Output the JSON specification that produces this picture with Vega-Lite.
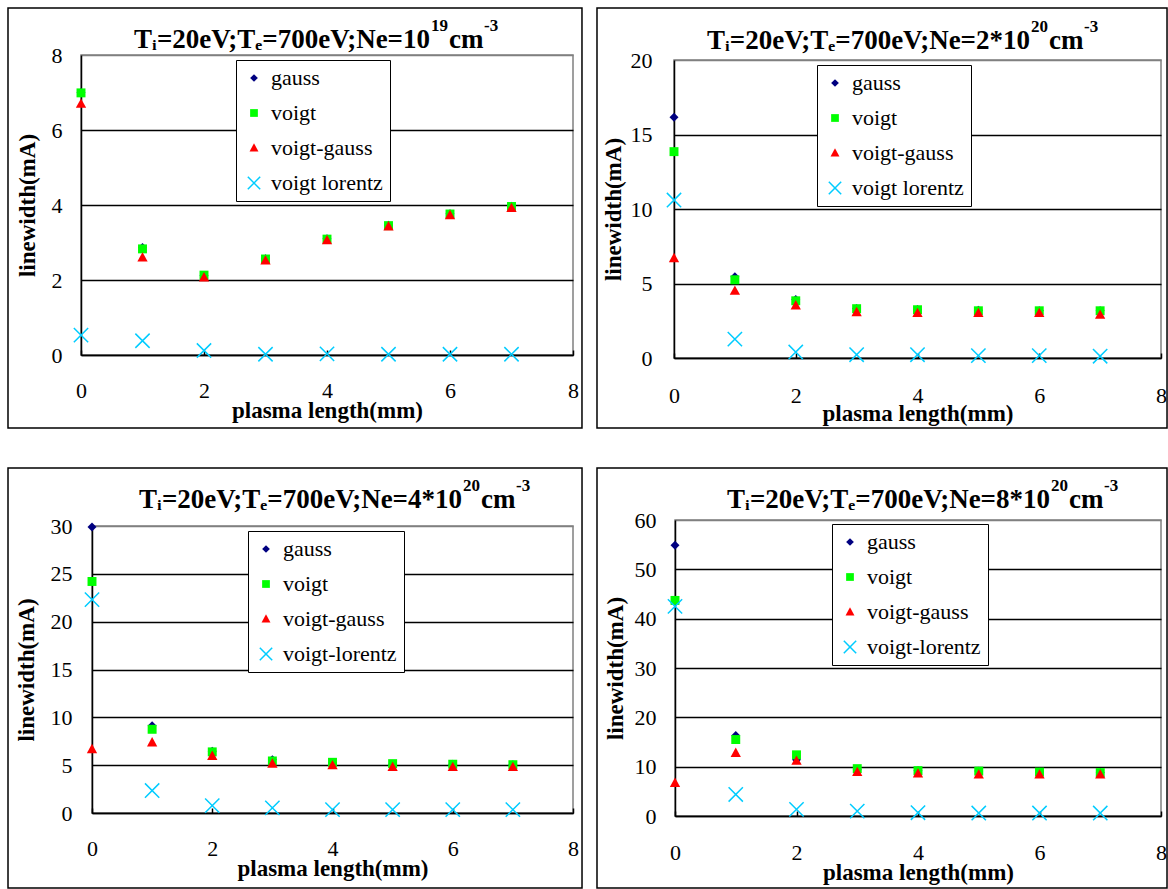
{
  "$schema": "https://vega.github.io/schema/vega-lite/v6.json",
  "background": "white",
  "padding": 0,
  "config": {
    "font": "Liberation Serif",
    "view": {"stroke": "#808080", "strokeWidth": 1.5},
    "axis": {"labelFont": "Liberation Serif", "titleFont": "Liberation Serif", "labelFontSize": 22, "titleFontSize": 23, "titleFontWeight": "bold", "labelColor": "black", "titleColor": "black", "domainColor": "black", "domainWidth": 1.5, "tickColor": "black", "tickWidth": 1.5, "labelFlush": false, "labelOverlap": false, "format": "d"},
    "legend": {"labelFont": "Liberation Serif", "labelFontSize": 22, "labelColor": "black", "strokeColor": "black", "fillColor": "white", "padding": 7, "rowPadding": 13, "symbolSize": 60, "labelOffset": 6, "symbolStrokeWidth": 1.5},
    "text": {"font": "Liberation Serif, DejaVu Serif", "fontSize": 27, "fontWeight": "bold", "color": "black", "baseline": "alphabetic"},
    "point": {"opacity": 1}
  },
  "datasets": {
    "p1": [
      {"x": 0, "y": 7.0, "s": "gauss"}, {"x": 1, "y": 2.87, "s": "gauss"}, {"x": 2, "y": 2.12, "s": "gauss"}, {"x": 3, "y": 2.57, "s": "gauss"}, {"x": 4, "y": 3.1, "s": "gauss"}, {"x": 5, "y": 3.46, "s": "gauss"}, {"x": 6, "y": 3.77, "s": "gauss"}, {"x": 7, "y": 3.97, "s": "gauss"},
      {"x": 0, "y": 6.99, "s": "voigt"}, {"x": 1, "y": 2.83, "s": "voigt"}, {"x": 2, "y": 2.13, "s": "voigt"}, {"x": 3, "y": 2.56, "s": "voigt"}, {"x": 4, "y": 3.09, "s": "voigt"}, {"x": 5, "y": 3.45, "s": "voigt"}, {"x": 6, "y": 3.76, "s": "voigt"}, {"x": 7, "y": 3.96, "s": "voigt"},
      {"x": 0, "y": 6.7, "s": "voigt-gauss"}, {"x": 1, "y": 2.6, "s": "voigt-gauss"}, {"x": 2, "y": 2.07, "s": "voigt-gauss"}, {"x": 3, "y": 2.52, "s": "voigt-gauss"}, {"x": 4, "y": 3.06, "s": "voigt-gauss"}, {"x": 5, "y": 3.43, "s": "voigt-gauss"}, {"x": 6, "y": 3.73, "s": "voigt-gauss"}, {"x": 7, "y": 3.92, "s": "voigt-gauss"},
      {"x": 0, "y": 0.53, "s": "voigt lorentz"}, {"x": 1, "y": 0.38, "s": "voigt lorentz"}, {"x": 2, "y": 0.12, "s": "voigt lorentz"}, {"x": 3, "y": 0.02, "s": "voigt lorentz"}, {"x": 4, "y": 0.03, "s": "voigt lorentz"}, {"x": 5, "y": 0.02, "s": "voigt lorentz"}, {"x": 6, "y": 0.02, "s": "voigt lorentz"}, {"x": 7, "y": 0.02, "s": "voigt lorentz"}
    ],
    "p2": [
      {"x": 0, "y": 16.16, "s": "gauss"}, {"x": 1, "y": 5.45, "s": "gauss"}, {"x": 2, "y": 3.92, "s": "gauss"}, {"x": 3, "y": 3.33, "s": "gauss"}, {"x": 4, "y": 3.25, "s": "gauss"}, {"x": 5, "y": 3.2, "s": "gauss"}, {"x": 6, "y": 3.18, "s": "gauss"}, {"x": 7, "y": 3.18, "s": "gauss"},
      {"x": 0, "y": 13.85, "s": "voigt"}, {"x": 1, "y": 5.25, "s": "voigt"}, {"x": 2, "y": 3.84, "s": "voigt"}, {"x": 3, "y": 3.31, "s": "voigt"}, {"x": 4, "y": 3.24, "s": "voigt"}, {"x": 5, "y": 3.17, "s": "voigt"}, {"x": 6, "y": 3.17, "s": "voigt"}, {"x": 7, "y": 3.17, "s": "voigt"},
      {"x": 0, "y": 6.7, "s": "voigt-gauss"}, {"x": 1, "y": 4.51, "s": "voigt-gauss"}, {"x": 2, "y": 3.53, "s": "voigt-gauss"}, {"x": 3, "y": 3.08, "s": "voigt-gauss"}, {"x": 4, "y": 3.02, "s": "voigt-gauss"}, {"x": 5, "y": 3.02, "s": "voigt-gauss"}, {"x": 6, "y": 3.02, "s": "voigt-gauss"}, {"x": 7, "y": 2.9, "s": "voigt-gauss"},
      {"x": 0, "y": 10.6, "s": "voigt lorentz"}, {"x": 1, "y": 1.27, "s": "voigt lorentz"}, {"x": 2, "y": 0.4, "s": "voigt lorentz"}, {"x": 3, "y": 0.22, "s": "voigt lorentz"}, {"x": 4, "y": 0.22, "s": "voigt lorentz"}, {"x": 5, "y": 0.16, "s": "voigt lorentz"}, {"x": 6, "y": 0.16, "s": "voigt lorentz"}, {"x": 7, "y": 0.12, "s": "voigt lorentz"}
    ],
    "p3": [
      {"x": 0, "y": 29.9, "s": "gauss"}, {"x": 1, "y": 9.13, "s": "gauss"}, {"x": 2, "y": 6.46, "s": "gauss"}, {"x": 3, "y": 5.58, "s": "gauss"}, {"x": 4, "y": 5.25, "s": "gauss"}, {"x": 5, "y": 5.1, "s": "gauss"}, {"x": 6, "y": 5.1, "s": "gauss"}, {"x": 7, "y": 5.05, "s": "gauss"},
      {"x": 0, "y": 24.2, "s": "voigt"}, {"x": 1, "y": 8.75, "s": "voigt"}, {"x": 2, "y": 6.39, "s": "voigt"}, {"x": 3, "y": 5.44, "s": "voigt"}, {"x": 4, "y": 5.3, "s": "voigt"}, {"x": 5, "y": 5.16, "s": "voigt"}, {"x": 6, "y": 5.1, "s": "voigt"}, {"x": 7, "y": 5.05, "s": "voigt"},
      {"x": 0, "y": 6.67, "s": "voigt-gauss"}, {"x": 1, "y": 7.38, "s": "voigt-gauss"}, {"x": 2, "y": 5.97, "s": "voigt-gauss"}, {"x": 3, "y": 5.16, "s": "voigt-gauss"}, {"x": 4, "y": 4.99, "s": "voigt-gauss"}, {"x": 5, "y": 4.81, "s": "voigt-gauss"}, {"x": 6, "y": 4.8, "s": "voigt-gauss"}, {"x": 7, "y": 4.8, "s": "voigt-gauss"},
      {"x": 0, "y": 22.3, "s": "voigt-lorentz"}, {"x": 1, "y": 2.35, "s": "voigt-lorentz"}, {"x": 2, "y": 0.77, "s": "voigt-lorentz"}, {"x": 3, "y": 0.53, "s": "voigt-lorentz"}, {"x": 4, "y": 0.35, "s": "voigt-lorentz"}, {"x": 5, "y": 0.35, "s": "voigt-lorentz"}, {"x": 6, "y": 0.35, "s": "voigt-lorentz"}, {"x": 7, "y": 0.35, "s": "voigt-lorentz"}
    ],
    "p4": [
      {"x": 0, "y": 54.9, "s": "gauss"}, {"x": 1, "y": 16.3, "s": "gauss"}, {"x": 2, "y": 11.4, "s": "gauss"}, {"x": 3, "y": 9.4, "s": "gauss"}, {"x": 4, "y": 9.2, "s": "gauss"}, {"x": 5, "y": 9.1, "s": "gauss"}, {"x": 6, "y": 8.9, "s": "gauss"}, {"x": 7, "y": 8.8, "s": "gauss"},
      {"x": 0, "y": 43.7, "s": "voigt"}, {"x": 1, "y": 15.5, "s": "voigt"}, {"x": 2, "y": 12.4, "s": "voigt"}, {"x": 3, "y": 9.6, "s": "voigt"}, {"x": 4, "y": 9.2, "s": "voigt"}, {"x": 5, "y": 9.1, "s": "voigt"}, {"x": 6, "y": 8.9, "s": "voigt"}, {"x": 7, "y": 8.8, "s": "voigt"},
      {"x": 0, "y": 6.7, "s": "voigt-gauss"}, {"x": 1, "y": 12.8, "s": "voigt-gauss"}, {"x": 2, "y": 11.2, "s": "voigt-gauss"}, {"x": 3, "y": 8.9, "s": "voigt-gauss"}, {"x": 4, "y": 8.6, "s": "voigt-gauss"}, {"x": 5, "y": 8.4, "s": "voigt-gauss"}, {"x": 6, "y": 8.4, "s": "voigt-gauss"}, {"x": 7, "y": 8.4, "s": "voigt-gauss"},
      {"x": 0, "y": 42.5, "s": "voigt-lorentz"}, {"x": 1, "y": 4.37, "s": "voigt-lorentz"}, {"x": 2, "y": 1.34, "s": "voigt-lorentz"}, {"x": 3, "y": 1.0, "s": "voigt-lorentz"}, {"x": 4, "y": 0.67, "s": "voigt-lorentz"}, {"x": 5, "y": 0.6, "s": "voigt-lorentz"}, {"x": 6, "y": 0.6, "s": "voigt-lorentz"}, {"x": 7, "y": 0.6, "s": "voigt-lorentz"}
    ]
  },
  "resolve": {"scale": {"shape": "independent", "fill": "independent", "stroke": "independent"}},
  "spacing": 30,
  "vconcat": [
    {
      "spacing": 11,
      "resolve": {"scale": {"shape": "independent", "fill": "independent", "stroke": "independent"}},
      "hconcat": [
        {
          "spacing": 5,
          "resolve": {"scale": {"shape": "independent", "fill": "independent", "stroke": "independent"}},
          "hconcat": [
            {"width": 1, "height": 1, "view": {"stroke": null}, "data": {"values": [{}]}, "mark": {"type": "point", "size": 0, "opacity": 0}},
            {
              "spacing": 5,
              "resolve": {"scale": {"shape": "independent", "fill": "independent", "stroke": "independent"}},
              "vconcat": [
                {"width": 1, "height": 1, "view": {"stroke": null}, "data": {"values": [{}]}, "mark": {"type": "point", "size": 0, "opacity": 0}},
                {
                  "width": 492, "height": 300,
                  "data": {"name": "p1"},
                  "layer": [
                    {
                      "data": {"values": [{}]},
                      "mark": {"type": "rect", "fillOpacity": 0, "stroke": "black", "strokeWidth": 1.5},
                      "encoding": {
                        "x": {"datum": -1.187, "type": "quantitative", "scale": {"domain": [0, 8], "nice": false, "zero": false}},
                        "x2": {"datum": 8.146},
                        "y": {"datum": 9.253, "type": "quantitative", "scale": {"domain": [0, 8], "nice": false}},
                        "y2": {"datum": -1.947}
                      }
                    },
                    {"data": {"values": [{}]}, "mark": {"type": "text", "text": "Tᵢ=20eV;Tₑ=700eV;Ne=10", "align": "right"}, "encoding": {"x": {"datum": 5.675, "type": "quantitative"}, "y": {"datum": 8.195, "type": "quantitative"}}},
                    {"data": {"values": [{}]}, "mark": {"type": "text", "text": "19", "align": "left", "fontSize": 17, "dx": 1, "dy": -17}, "encoding": {"x": {"datum": 5.675, "type": "quantitative"}, "y": {"datum": 8.195, "type": "quantitative"}}},
                    {"data": {"values": [{}]}, "mark": {"type": "text", "text": "cm", "align": "left", "dx": 19}, "encoding": {"x": {"datum": 5.675, "type": "quantitative"}, "y": {"datum": 8.195, "type": "quantitative"}}},
                    {"data": {"values": [{}]}, "mark": {"type": "text", "text": "-3", "align": "left", "fontSize": 17, "dx": 54, "dy": -17}, "encoding": {"x": {"datum": 5.675, "type": "quantitative"}, "y": {"datum": 8.195, "type": "quantitative"}}},
                    {
                      "mark": {"type": "point", "filled": true, "size": 80, "strokeWidth": 1.5, "opacity": 1},
                      "encoding": {
                        "x": {"field": "x", "type": "quantitative", "scale": {"domain": [0, 8], "nice": false, "zero": false},
                              "axis": {"title": "plasma length(mm)", "values": [0, 2, 4, 6, 8], "tickSize": -5, "labelPadding": 30, "titlePadding": -2, "grid": false}},
                        "y": {"field": "y", "type": "quantitative", "scale": {"domain": [0, 8], "nice": false},
                              "axis": {"title": "linewidth(mA)", "values": [0, 2, 4, 6, 8], "ticks": false, "labelPadding": 19, "titlePadding": 12, "grid": true, "gridWidth": 1.3, "gridColor": {"condition": {"test": "datum.value >= 8", "value": "#808080"}, "value": "black"}}},
                        "shape": {"field": "s", "type": "nominal", "scale": {"domain": ["gauss", "voigt", "voigt-gauss", "voigt lorentz"], "range": ["diamond", "square", "M0,-1.2L1.15,0.9L-1.15,0.9Z", "M-1.6,-1.6L1.6,1.6M-1.6,1.6L1.6,-1.6"]}, "legend": {"title": null, "orient": "none", "legendX": 155, "legendY": 5}},
                        "fill": {"field": "s", "type": "nominal", "scale": {"domain": ["gauss", "voigt", "voigt-gauss", "voigt lorentz"], "range": ["#000080", "#00FF00", "#FF0000", "#00CCFF"]}, "legend": {"title": null, "orient": "none", "legendX": 155, "legendY": 5}},
                        "stroke": {"field": "s", "type": "nominal", "scale": {"domain": ["gauss", "voigt", "voigt-gauss", "voigt lorentz"], "range": ["transparent", "transparent", "transparent", "#00CCFF"]}, "legend": {"title": null, "orient": "none", "legendX": 155, "legendY": 5}}
                      }
                    }
                  ]
                }
              ]
            }
          ]
        },
        {
          "spacing": 5,
          "resolve": {"scale": {"shape": "independent", "fill": "independent", "stroke": "independent"}},
          "vconcat": [
            {"width": 1, "height": 1, "view": {"stroke": null}, "data": {"values": [{}]}, "mark": {"type": "point", "size": 0, "opacity": 0}},
            {
              "width": 487, "height": 298,
              "data": {"name": "p2"},
              "layer": [
                {
                  "data": {"values": [{}]},
                  "mark": {"type": "rect", "fillOpacity": 0, "stroke": "black", "strokeWidth": 1.5},
                  "encoding": {
                    "x": {"datum": -1.265, "type": "quantitative", "scale": {"domain": [0, 8], "nice": false, "zero": false}},
                    "x2": {"datum": 8.099},
                    "y": {"datum": 23.49, "type": "quantitative", "scale": {"domain": [0, 20], "nice": false}},
                    "y2": {"datum": -4.7}
                  }
                },
                {"data": {"values": [{}]}, "mark": {"type": "text", "text": "Tᵢ=20eV;Tₑ=700eV;Ne=2*10", "align": "right"}, "encoding": {"x": {"datum": 5.848, "type": "quantitative"}, "y": {"datum": 20.74, "type": "quantitative"}}},
                {"data": {"values": [{}]}, "mark": {"type": "text", "text": "20", "align": "left", "fontSize": 17, "dx": 1, "dy": -17}, "encoding": {"x": {"datum": 5.848, "type": "quantitative"}, "y": {"datum": 20.74, "type": "quantitative"}}},
                {"data": {"values": [{}]}, "mark": {"type": "text", "text": "cm", "align": "left", "dx": 19}, "encoding": {"x": {"datum": 5.848, "type": "quantitative"}, "y": {"datum": 20.74, "type": "quantitative"}}},
                {"data": {"values": [{}]}, "mark": {"type": "text", "text": "-3", "align": "left", "fontSize": 17, "dx": 54, "dy": -17}, "encoding": {"x": {"datum": 5.848, "type": "quantitative"}, "y": {"datum": 20.74, "type": "quantitative"}}},
                {
                  "mark": {"type": "point", "filled": true, "size": 80, "strokeWidth": 1.5, "opacity": 1},
                  "encoding": {
                    "x": {"field": "x", "type": "quantitative", "scale": {"domain": [0, 8], "nice": false, "zero": false},
                          "axis": {"title": "plasma length(mm)", "values": [0, 2, 4, 6, 8], "tickSize": -5, "labelPadding": 32, "titlePadding": -4, "grid": false}},
                    "y": {"field": "y", "type": "quantitative", "scale": {"domain": [0, 20], "nice": false},
                          "axis": {"title": "linewidth(mA)", "values": [0, 5, 10, 15, 20], "ticks": false, "labelPadding": 22, "titlePadding": 5, "grid": true, "gridWidth": 1.3, "gridColor": {"condition": {"test": "datum.value >= 20", "value": "#808080"}, "value": "black"}}},
                    "shape": {"field": "s", "type": "nominal", "scale": {"domain": ["gauss", "voigt", "voigt-gauss", "voigt lorentz"], "range": ["diamond", "square", "M0,-1.2L1.15,0.9L-1.15,0.9Z", "M-1.6,-1.6L1.6,1.6M-1.6,1.6L1.6,-1.6"]}, "legend": {"title": null, "orient": "none", "legendX": 143, "legendY": 5}},
                    "fill": {"field": "s", "type": "nominal", "scale": {"domain": ["gauss", "voigt", "voigt-gauss", "voigt lorentz"], "range": ["#000080", "#00FF00", "#FF0000", "#00CCFF"]}, "legend": {"title": null, "orient": "none", "legendX": 143, "legendY": 5}},
                    "stroke": {"field": "s", "type": "nominal", "scale": {"domain": ["gauss", "voigt", "voigt-gauss", "voigt lorentz"], "range": ["transparent", "transparent", "transparent", "#00CCFF"]}, "legend": {"title": null, "orient": "none", "legendX": 143, "legendY": 5}}
                  }
                }
              ]
            }
          ]
        }
      ]
    },
    {
      "spacing": 11,
      "resolve": {"scale": {"shape": "independent", "fill": "independent", "stroke": "independent"}},
      "hconcat": [
        {
          "spacing": 5,
          "resolve": {"scale": {"shape": "independent", "fill": "independent", "stroke": "independent"}},
          "hconcat": [
            {"width": 1, "height": 1, "view": {"stroke": null}, "data": {"values": [{}]}, "mark": {"type": "point", "size": 0, "opacity": 0}},
            {
              "spacing": 5,
              "resolve": {"scale": {"shape": "independent", "fill": "independent", "stroke": "independent"}},
              "vconcat": [
                {"width": 1, "height": 1, "view": {"stroke": null}, "data": {"values": [{}]}, "mark": {"type": "point", "size": 0, "opacity": 0}},
                {
                  "width": 481, "height": 287,
                  "data": {"name": "p3"},
                  "layer": [
                    {
                      "data": {"values": [{}]},
                      "mark": {"type": "rect", "fillOpacity": 0, "stroke": "black", "strokeWidth": 1.5},
                      "encoding": {
                        "x": {"datum": -1.397, "type": "quantitative", "scale": {"domain": [0, 8], "nice": false, "zero": false}},
                        "x2": {"datum": 8.15},
                        "y": {"datum": 36.06, "type": "quantitative", "scale": {"domain": [0, 30], "nice": false}},
                        "y2": {"datum": -7.84}
                      }
                    },
                    {"data": {"values": [{}]}, "mark": {"type": "text", "text": "Tᵢ=20eV;Tₑ=700eV;Ne=4*10", "align": "right"}, "encoding": {"x": {"datum": 6.154, "type": "quantitative"}, "y": {"datum": 31.88, "type": "quantitative"}}},
                    {"data": {"values": [{}]}, "mark": {"type": "text", "text": "20", "align": "left", "fontSize": 17, "dx": 1, "dy": -17}, "encoding": {"x": {"datum": 6.154, "type": "quantitative"}, "y": {"datum": 31.88, "type": "quantitative"}}},
                    {"data": {"values": [{}]}, "mark": {"type": "text", "text": "cm", "align": "left", "dx": 19}, "encoding": {"x": {"datum": 6.154, "type": "quantitative"}, "y": {"datum": 31.88, "type": "quantitative"}}},
                    {"data": {"values": [{}]}, "mark": {"type": "text", "text": "-3", "align": "left", "fontSize": 17, "dx": 54, "dy": -17}, "encoding": {"x": {"datum": 6.154, "type": "quantitative"}, "y": {"datum": 31.88, "type": "quantitative"}}},
                    {
                      "mark": {"type": "point", "filled": true, "size": 80, "strokeWidth": 1.5, "opacity": 1},
                      "encoding": {
                        "x": {"field": "x", "type": "quantitative", "scale": {"domain": [0, 8], "nice": false, "zero": false},
                              "axis": {"title": "plasma length(mm)", "values": [0, 2, 4, 6, 8], "tickSize": -5, "labelPadding": 30, "titlePadding": -2, "grid": false}},
                        "y": {"field": "y", "type": "quantitative", "scale": {"domain": [0, 30], "nice": false},
                              "axis": {"title": "linewidth(mA)", "values": [0, 5, 10, 15, 20, 25, 30], "ticks": false, "labelPadding": 20, "titlePadding": 12, "grid": true, "gridWidth": 1.3, "gridColor": {"condition": {"test": "datum.value >= 30", "value": "#808080"}, "value": "black"}}},
                        "shape": {"field": "s", "type": "nominal", "scale": {"domain": ["gauss", "voigt", "voigt-gauss", "voigt-lorentz"], "range": ["diamond", "square", "M0,-1.2L1.15,0.9L-1.15,0.9Z", "M-1.6,-1.6L1.6,1.6M-1.6,1.6L1.6,-1.6"]}, "legend": {"title": null, "orient": "none", "legendX": 156, "legendY": 5}},
                        "fill": {"field": "s", "type": "nominal", "scale": {"domain": ["gauss", "voigt", "voigt-gauss", "voigt-lorentz"], "range": ["#000080", "#00FF00", "#FF0000", "#00CCFF"]}, "legend": {"title": null, "orient": "none", "legendX": 156, "legendY": 5}},
                        "stroke": {"field": "s", "type": "nominal", "scale": {"domain": ["gauss", "voigt", "voigt-gauss", "voigt-lorentz"], "range": ["transparent", "transparent", "transparent", "#00CCFF"]}, "legend": {"title": null, "orient": "none", "legendX": 156, "legendY": 5}}
                      }
                    }
                  ]
                }
              ]
            }
          ]
        },
        {
          "spacing": 5,
          "resolve": {"scale": {"shape": "independent", "fill": "independent", "stroke": "independent"}},
          "vconcat": [
            {"width": 1, "height": 1, "view": {"stroke": null}, "data": {"values": [{}]}, "mark": {"type": "point", "size": 0, "opacity": 0}},
            {
              "width": 486, "height": 296,
              "data": {"name": "p4"},
              "layer": [
                {
                  "data": {"values": [{}]},
                  "mark": {"type": "rect", "fillOpacity": 0, "stroke": "black", "strokeWidth": 1.5},
                  "encoding": {
                    "x": {"datum": -1.284, "type": "quantitative", "scale": {"domain": [0, 8], "nice": false, "zero": false}},
                    "x2": {"datum": 8.099},
                    "y": {"datum": 70.54, "type": "quantitative", "scale": {"domain": [0, 60], "nice": false}},
                    "y2": {"datum": -14.6}
                  }
                },
                {"data": {"values": [{}]}, "mark": {"type": "text", "text": "Tᵢ=20eV;Tₑ=700eV;Ne=8*10", "align": "right"}, "encoding": {"x": {"datum": 6.173, "type": "quantitative"}, "y": {"datum": 62.44, "type": "quantitative"}}},
                {"data": {"values": [{}]}, "mark": {"type": "text", "text": "20", "align": "left", "fontSize": 17, "dx": 1, "dy": -17}, "encoding": {"x": {"datum": 6.173, "type": "quantitative"}, "y": {"datum": 62.44, "type": "quantitative"}}},
                {"data": {"values": [{}]}, "mark": {"type": "text", "text": "cm", "align": "left", "dx": 19}, "encoding": {"x": {"datum": 6.173, "type": "quantitative"}, "y": {"datum": 62.44, "type": "quantitative"}}},
                {"data": {"values": [{}]}, "mark": {"type": "text", "text": "-3", "align": "left", "fontSize": 17, "dx": 54, "dy": -17}, "encoding": {"x": {"datum": 6.173, "type": "quantitative"}, "y": {"datum": 62.44, "type": "quantitative"}}},
                {
                  "mark": {"type": "point", "filled": true, "size": 80, "strokeWidth": 1.5, "opacity": 1},
                  "encoding": {
                    "x": {"field": "x", "type": "quantitative", "scale": {"domain": [0, 8], "nice": false, "zero": false},
                          "axis": {"title": "plasma length(mm)", "values": [0, 2, 4, 6, 8], "tickSize": -5, "labelPadding": 31, "titlePadding": -2, "grid": false}},
                    "y": {"field": "y", "type": "quantitative", "scale": {"domain": [0, 60], "nice": false},
                          "axis": {"title": "linewidth(mA)", "values": [0, 10, 20, 30, 40, 50, 60], "ticks": false, "labelPadding": 19, "titlePadding": 7, "grid": true, "gridWidth": 1.3, "gridColor": {"condition": {"test": "datum.value >= 60", "value": "#808080"}, "value": "black"}}},
                    "shape": {"field": "s", "type": "nominal", "scale": {"domain": ["gauss", "voigt", "voigt-gauss", "voigt-lorentz"], "range": ["diamond", "square", "M0,-1.2L1.15,0.9L-1.15,0.9Z", "M-1.6,-1.6L1.6,1.6M-1.6,1.6L1.6,-1.6"]}, "legend": {"title": null, "orient": "none", "legendX": 157, "legendY": 4}},
                    "fill": {"field": "s", "type": "nominal", "scale": {"domain": ["gauss", "voigt", "voigt-gauss", "voigt-lorentz"], "range": ["#000080", "#00FF00", "#FF0000", "#00CCFF"]}, "legend": {"title": null, "orient": "none", "legendX": 157, "legendY": 4}},
                    "stroke": {"field": "s", "type": "nominal", "scale": {"domain": ["gauss", "voigt", "voigt-gauss", "voigt-lorentz"], "range": ["transparent", "transparent", "transparent", "#00CCFF"]}, "legend": {"title": null, "orient": "none", "legendX": 157, "legendY": 4}}
                  }
                }
              ]
            }
          ]
        }
      ]
    }
  ]
}
